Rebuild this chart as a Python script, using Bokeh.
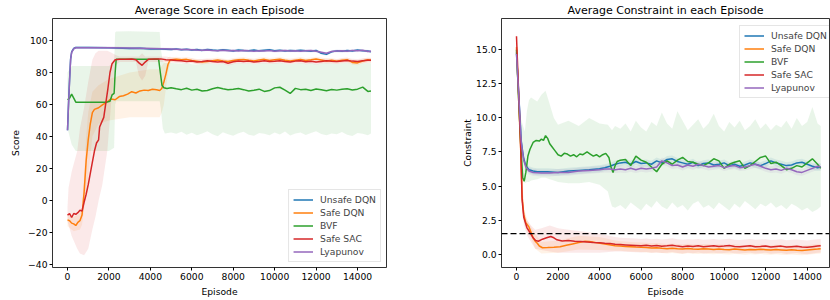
from bokeh.plotting import figure
from bokeh.layouts import row
from bokeh.models import Range1d, Span, Legend, LegendItem, FixedTicker, CustomJSTickFormatter
from bokeh.embed import file_html
from bokeh.resources import INLINE

# ---------------- data ----------------
SERIES = ["Unsafe DQN", "Safe DQN", "BVF", "Safe SAC", "Lyapunov"]
COLORS = ["#1f77b4", "#ff7f0e", "#2ca02c", "#d62728", "#9467bd"]
X_TICKS = [0, 2000, 4000, 6000, 8000, 10000, 12000, 14000]
SCORE_TICKS = [-40, -20, 0, 20, 40, 60, 80, 100]
CONSTRAINT_TICKS = [0, 2.5, 5, 7.5, 10, 12.5, 15]
CONSTRAINT_LIMIT = 1.5

TAIL_EP = [5000, 5250, 5500, 5750, 6000, 6250, 6500, 6750, 7000, 7250,
           7500, 7750, 8000, 8250, 8500, 8750, 9000, 9250, 9500, 9750,
           10000, 10250, 10500, 10750, 11000, 11250, 11500, 11750, 12000, 12250,
           12500, 12750, 13000, 13250, 13500, 13750, 14000, 14250, 14500, 14650]

# ---- score (left) ----
S_UNSAFE_HEAD_EP = [0, 50, 100, 150, 200, 300, 400, 1000, 2000, 3000, 3500, 4000, 4500]
S_UNSAFE_HEAD = [44, 61, 76, 88.5, 92.8, 95.0, 95.6, 95.6, 95.5, 95.0, 95.2, 94.6, 94.7]
S_UNSAFE_TAIL = [94.4, 94.7, 94.2, 94.5, 94.0, 94.3, 93.8, 94.4, 94.0, 93.7,
                 94.2, 93.9, 93.4, 94.1, 93.8, 93.6, 94.0, 93.5, 93.9, 94.2,
                 93.6, 93.9, 93.4, 93.8, 93.5, 93.9, 93.6, 93.3, 93.8, 92.0,
                 91.3, 92.9, 93.5, 93.2, 93.7, 93.4, 94.0, 93.6, 93.4, 93.0]
S_UNSAFE_HW = 0.8

S_LYAP_HEAD_EP = [0, 50, 100, 150, 200, 300, 400, 1000, 2000, 3000, 4000, 4500]
S_LYAP_HEAD = [44, 60, 75, 88, 92.5, 94.8, 95.5, 95.5, 95.5, 95.3, 95.0, 94.8]
S_LYAP_TAIL = [94.6, 94.5, 94.4, 94.3, 94.2, 94.0, 93.9, 94.1, 93.8, 93.6,
               93.9, 93.5, 93.7, 93.4, 93.8, 93.5, 93.3, 93.6, 93.4, 93.7,
               93.2, 93.5, 93.8, 93.4, 93.6, 93.3, 93.5, 93.7, 93.2, 92.6,
               92.0, 93.1, 93.4, 93.6, 93.2, 93.8, 93.5, 93.9, 93.1, 93.3]
S_LYAP_HW = 0.8

S_SAC_HEAD_EP = [0, 100, 200, 300, 400, 500, 600, 700, 800, 900, 1000, 1100, 1200, 1300,
                 1400, 1500, 1550, 1650, 1750, 1850, 1950, 2050, 2150, 2300, 2500, 2800,
                 3100, 3300, 3450, 3600, 3750, 3900, 4200, 4500, 4750]
S_SAC_HEAD = [-9, -8, -10.5, -8, -8.5, -7.5, -6, -6.5, -1, 4, 10, 17, 24, 31,
              36, 38, 46, 49, 52, 61, 70, 80, 85.5, 88, 88.3, 88.2,
              88.4, 88.0, 86, 84.5, 86.5, 88.2, 88.4, 88.5, 88.0]
S_SAC_TAIL = [87.8, 87.5, 87.3, 86.9, 87.2, 86.6, 86.9, 87.3, 86.8, 86.5,
              86.9, 85.8, 86.7, 87.2, 86.8, 87.1, 86.6, 86.9, 87.3, 86.8,
              87.0, 87.4, 86.9, 86.6, 87.1, 87.3, 86.7, 87.0, 86.5, 86.9,
              87.3, 87.0, 86.8, 87.2, 87.5, 87.1, 86.9, 87.3, 87.6, 87.6]
S_SAC_BAND_EP = [0, 50, 200, 470, 600, 800, 1000, 1200, 1350, 1500, 1680, 1920, 2100,
                 2300, 2500, 3300, 3450, 3600, 3750, 3900, 4750]
S_SAC_BAND_LO = [-13, -15, -22, -30, -33, -34, -30, -18, -10, 0, 10, 31, 60,
                 84, 86.5, 86.5, 78, 75, 78, 86.5, 86.5]
S_SAC_BAND_HI = [-4, 8, 18, 31, 45, 58, 74, 88, 92, 93.5, 93.5, 93.5, 92.5,
                 91, 90, 90, 90, 92, 90, 90, 90]
S_SAC_HW = 1.5

S_DQN_HEAD_EP = [0, 100, 200, 300, 400, 500, 600, 700, 800, 900, 1000, 1100, 1200, 1300,
                 1500, 1700, 1900, 2100, 2300, 2500, 2700, 2900, 3100, 3300, 3500, 3700,
                 3900, 4100, 4300, 4450, 4550, 4650, 4750, 4850, 4950]
S_DQN_HEAD = [-12, -12.5, -14, -14.5, -15.5, -13.5, -12.5, -9, 5, 25, 38, 48, 55, 57,
              58, 60, 61.5, 63.5, 63, 65, 65.5, 66.5, 68, 67.2, 68.5, 69,
              68.8, 69.6, 69.2, 68.8, 70, 74, 79, 85, 87.8]
S_DQN_TAIL = [88.0, 88.3, 87.9, 88.2, 87.5, 87.0, 86.5, 86.9, 87.4, 87.8,
              87.2, 86.8, 87.5, 87.9, 88.1, 87.6, 87.2, 87.8, 88.2, 87.5,
              87.9, 88.3, 87.6, 87.2, 87.7, 88.1, 87.5, 87.9, 88.4, 87.8,
              87.2, 87.6, 87.0, 87.6, 88.0, 86.3, 86.0, 87.2, 87.9, 87.7]
S_DQN_BAND_EP = [0, 300, 600, 700, 800, 900, 1000, 1200, 1500, 2000, 3000, 4000,
                 4450, 4550, 4650, 4750, 4850, 4950]
S_DQN_BAND_LO = [-16, -19, -18, -15, -5, 5, 15, 40, 48, 50, 52, 52,
                 52, 55, 60, 70, 80, 85.5]
S_DQN_BAND_HI = [-8, -10, -8, -4, 15, 40, 55, 68, 72, 76, 80, 82,
                 82, 84, 86, 88, 89.5, 90]
S_DQN_HW = 1.5

S_BVF_HEAD_EP = [0, 100, 200, 300, 400, 600, 1000, 1500, 1900, 2050, 2150, 2250, 2300,
                 2350, 2600, 3000, 3500, 4000, 4400, 4480, 4560, 4650, 4800]
S_BVF_HEAD = [63, 64, 66.5, 64, 61.5, 61.5, 61.4, 61.5, 61.5, 62, 66, 67, 80,
              88.3, 88.3, 88.2, 88.3, 88.2, 88.2, 80, 72, 70.5, 70]
S_BVF_TAIL = [70.5, 69.8, 69.3, 70.2, 69.0, 69.5, 68.4, 68.8, 69.9, 70.6,
              69.8, 69.2, 69.5, 70.0, 69.3, 68.4, 68.9, 69.6, 68.2, 68.7,
              70.4, 70.8, 69.0, 66.9, 70.1, 69.3, 69.6, 68.8, 69.7, 69.2,
              68.6, 69.4, 69.0, 69.5, 69.9, 69.1, 69.6, 70.9, 68.2, 68.5]
S_BVF_BAND_EP = [0, 200, 400, 1000, 1500, 2000, 2250, 2300, 2350, 3000, 4000, 4450,
                 4500, 4600, 4700]
S_BVF_BAND_LO = [45, 35, 31, 31, 31, 31, 33, 60, 62, 62, 62, 62, 58, 45, 42]
S_BVF_BAND_HI = [80, 84, 84, 84, 84, 84, 86, 105, 105.6, 105.8, 105.5, 105.3, 95, 87, 86]
S_BVF_TAIL_LO = [42.5, 41.8, 43.0, 41.2, 42.4, 40.8, 42.0, 43.3, 41.5, 40.2,
                 42.7, 41.4, 40.6, 42.1, 43.0, 41.2, 40.5, 42.3, 41.7, 40.9,
                 42.5, 41.3, 43.1, 40.7, 41.9, 42.6, 41.0, 42.2, 43.4, 41.6,
                 40.8, 42.0, 41.4, 42.8, 41.1, 40.4, 42.3, 41.7, 40.9, 42.0]
S_BVF_TAIL_HI = [86.0, 85.8, 85.5, 85.7, 85.2, 85.0, 85.4, 85.8, 85.3, 85.0,
                 85.6, 84.8, 85.4, 85.9, 85.5, 85.7, 85.2, 85.6, 86.0, 85.4,
                 85.7, 86.1, 85.5, 85.1, 85.6, 85.9, 85.3, 85.7, 85.2, 85.6,
                 86.0, 85.6, 85.3, 85.8, 86.1, 85.4, 85.2, 85.7, 86.0, 85.8]

# ---- constraint (right) ----
C_UNSAFE_HEAD_EP = [0, 230, 300, 350, 450, 600, 800, 1000, 1500, 2000, 2500, 3000, 3500,
                    4000, 4250, 4500, 4750]
C_UNSAFE_HEAD = [14.8, 8.3, 7.5, 7.0, 6.5, 6.2, 6.1, 6.05, 6.05, 6.0, 6.1, 6.15, 6.2,
                 6.27, 6.35, 6.45, 6.6]
C_UNSAFE_TAIL = [6.70, 6.75, 6.60, 6.80, 6.65, 6.70, 6.60, 6.85, 6.70, 6.95,
                 7.00, 6.80, 6.70, 6.60, 6.75, 6.50, 6.65, 6.70, 6.55, 6.60,
                 6.70, 6.50, 6.60, 6.45, 6.55, 6.70, 6.60, 6.50, 6.65, 6.85,
                 6.70, 6.60, 6.50, 6.55, 6.70, 6.75, 6.60, 6.45, 6.35, 6.40]
C_UNSAFE_HW = 0.25

C_LYAP_HEAD_EP = [0, 230, 300, 350, 450, 600, 800, 1200, 1600, 2000, 2500, 3000, 3500,
                  4000, 4250, 4500, 4750]
C_LYAP_HEAD = [14.7, 8.2, 7.4, 6.9, 6.4, 6.1, 6.0, 5.95, 5.95, 6.0, 6.0, 6.1, 6.15,
               6.2, 6.25, 6.25, 6.2]
C_LYAP_TAIL = [6.25, 6.20, 6.30, 6.20, 6.30, 6.25, 6.30, 6.40, 6.85, 6.70,
               6.50, 6.55, 6.40, 6.55, 6.45, 6.60, 6.50, 6.40, 6.45, 6.50,
               6.35, 6.45, 6.50, 6.35, 6.40, 6.50, 6.60, 6.45, 6.30, 6.20,
               6.25, 6.15, 6.30, 6.20, 6.05, 6.00, 6.15, 6.30, 6.45, 6.40]
C_LYAP_HW = 0.25

C_SAC_HEAD_EP = [0, 100, 200, 270, 350, 500, 680, 800, 920, 1050, 1250, 1450, 1650, 1800,
                 1950, 2200, 2500, 2800, 3100, 3400, 3700, 4000, 4250, 4500, 4750]
C_SAC_HEAD = [16.0, 12.0, 8.0, 4.0, 2.7, 1.95, 1.5, 1.2, 1.0, 0.95, 1.1, 1.2, 1.3, 1.2,
              1.05, 0.97, 1.0, 0.95, 0.93, 0.9, 0.85, 0.83, 0.8, 0.78, 0.72]
C_SAC_TAIL = [0.70, 0.68, 0.66, 0.64, 0.62, 0.65, 0.60, 0.63, 0.58, 0.61,
              0.66, 0.59, 0.55, 0.60, 0.57, 0.62, 0.55, 0.58, 0.61, 0.56,
              0.59, 0.63, 0.56, 0.54, 0.58, 0.61, 0.55, 0.57, 0.60, 0.53,
              0.56, 0.59, 0.52, 0.55, 0.58, 0.53, 0.50, 0.55, 0.60, 0.62]
C_SAC_BAND_EP = [0, 200, 350, 500, 700, 900, 1200, 1600, 2000, 2500, 3000, 3500, 4000, 4750]
C_SAC_BAND_LO = [15.5, 7.5, 2.2, 1.4, 0.9, 0.4, 0.3, 0.2, 0.1, 0.1, 0.1, 0.1, 0.1, 0.2]
C_SAC_BAND_HI = [16.4, 8.6, 3.2, 2.5, 2.1, 1.8, 1.9, 2.1, 1.9, 1.8, 1.7, 1.6, 1.5, 1.25]
C_SAC_HW = 0.5

C_DQN_HEAD_EP = [0, 100, 200, 270, 350, 450, 600, 700, 800, 900, 1000, 1100, 1250, 1500,
                 1800, 2100, 2400, 2700, 3000, 3300, 3500, 3800, 4100, 4400, 4750]
C_DQN_HEAD = [15.2, 11.5, 7.8, 4.2, 2.9, 2.3, 2.0, 1.6, 1.2, 0.95, 0.8, 0.6, 0.47, 0.48,
              0.5, 0.55, 0.65, 0.75, 0.85, 0.95, 0.93, 0.85, 0.78, 0.7, 0.62]
C_DQN_TAIL = [0.60, 0.57, 0.55, 0.52, 0.50, 0.48, 0.45, 0.47, 0.43, 0.40,
              0.44, 0.39, 0.37, 0.41, 0.38, 0.36, 0.40, 0.37, 0.34, 0.38,
              0.35, 0.33, 0.37, 0.34, 0.31, 0.35, 0.32, 0.36, 0.33, 0.30,
              0.34, 0.31, 0.28, 0.32, 0.29, 0.27, 0.31, 0.35, 0.38, 0.40]
C_DQN_BAND_EP = [0, 200, 350, 500, 700, 900, 1200, 2000, 3000, 4000, 4750]
C_DQN_BAND_LO = [14.7, 7.3, 2.4, 1.7, 1.2, 0.4, 0.05, 0.1, 0.35, 0.3, 0.25]
C_DQN_BAND_HI = [15.7, 8.3, 3.4, 2.6, 2.0, 1.5, 0.9, 1.0, 1.35, 1.25, 1.0]
C_DQN_HW = 0.35

C_BVF_HEAD_EP = [0, 100, 200, 300, 370, 450, 550, 650, 800, 950, 1100, 1200, 1300, 1400,
                 1500, 1600, 1700, 1850, 2000, 2150, 2300, 2450, 2600, 2750, 2900, 3050,
                 3200, 3400, 3550, 3700, 3850, 4000, 4150, 4300, 4450, 4550, 4650, 4750, 4850]
C_BVF_HEAD = [15.0, 11.5, 8.2, 5.6, 5.35, 6.0, 7.2, 7.7, 8.2, 8.35, 8.3, 8.45, 8.35, 8.7,
              8.5, 8.1, 7.9, 7.6, 7.3, 7.2, 7.4, 7.35, 7.2, 7.3, 7.15, 7.35,
              7.3, 7.5, 7.35, 7.2, 7.3, 7.15, 7.3, 7.4, 7.1, 6.4, 6.0, 6.5, 6.8]
C_BVF_TAIL = [6.90, 6.95, 6.50, 7.20, 6.90, 6.75, 6.40, 6.05, 6.60, 6.85,
              6.60, 6.90, 7.10, 6.80, 6.75, 6.60, 6.50, 6.70, 7.00, 6.85,
              6.30, 6.60, 6.75, 6.85, 6.30, 6.50, 6.80, 7.10, 7.20, 6.65,
              6.75, 6.50, 6.20, 6.30, 6.50, 6.40, 6.70, 7.00, 6.60, 6.30]
C_BVF_BAND_EP = [0, 200, 400, 500, 600, 700, 1000, 1200, 1400, 1600, 1800, 2000, 2500,
                 3000, 3500, 4000, 4400, 4500, 4600, 4750]
C_BVF_BAND_HI = [15.5, 10, 9, 10.5, 11.3, 11.5, 11.2, 11.7, 12.0, 11.0, 10.0, 9.5, 9.8,
                 9.4, 10.0, 9.6, 9.5, 9.3, 9.1, 9.4]
C_BVF_BAND_LO = [14.5, 6.5, 5.2, 5.3, 5.3, 5.4, 5.5, 5.6, 5.6, 5.5, 5.4, 5.3, 5.2,
                 5.2, 5.3, 5.1, 4.6, 4.0, 3.5, 3.4]
C_BVF_TAIL_HI = [9.2, 9.6, 9.0, 9.8, 9.3, 9.0, 9.7, 9.4, 10.4, 9.6,
                 9.2, 10.5, 9.8, 9.1, 9.5, 9.9, 9.2, 9.6, 10.3, 9.4,
                 9.0, 9.7, 9.3, 9.8, 9.1, 9.4, 9.9, 9.2, 9.6, 9.1,
                 9.5, 9.3, 9.8, 9.2, 10.0, 9.4, 9.7, 10.8, 9.6, 9.4]
C_BVF_TAIL_LO = [3.6, 3.3, 3.8, 3.5, 3.2, 3.7, 3.4, 3.9, 3.5, 3.3,
                 3.8, 3.4, 3.6, 3.2, 3.7, 3.9, 3.4, 3.6, 3.3, 3.8,
                 3.5, 3.2, 3.7, 3.4, 3.9, 3.6, 3.3, 3.7, 3.5, 3.8,
                 3.4, 3.6, 3.3, 3.7, 3.5, 3.2, 3.4, 3.1, 3.3, 3.5]

# ---------------- helpers ----------------
FONT = "DejaVu Sans"


def line_of(head_ep, head, tail):
    return list(head_ep) + TAIL_EP, list(head) + list(tail)


def band_hw(xs, ys, hw):
    return xs, [v - hw for v in ys], [v + hw for v in ys]


def band_head_tail(band_ep, lo, hi, tail, hw):
    return (list(band_ep) + TAIL_EP,
            list(lo) + [v - hw for v in tail],
            list(hi) + [v + hw for v in tail])


def make_fig(title, xr, yr, width, left, right, ylabel, yticks, fmt_code, ylabel_standoff):
    p = figure(width=width, height=300, x_range=Range1d(*xr), y_range=Range1d(*yr),
               output_backend="svg", toolbar_location=None,
               min_border_left=left, min_border_right=right,
               min_border_top=0, min_border_bottom=33)
    p.title.text = title
    p.title.align = "center"
    p.title.text_font = FONT
    p.title.text_font_size = "11px"
    p.title.text_font_style = "normal"
    p.title.text_color = "#000000"
    p.title.standoff = 3
    p.title.offset = 0
    p.grid.visible = False
    p.outline_line_color = "#000000"
    p.outline_line_width = 1
    p.outline_line_alpha = 0.8
    p.background_fill_color = "white"
    p.border_fill_color = "white"
    p.xaxis.ticker = FixedTicker(ticks=X_TICKS)
    p.yaxis.ticker = FixedTicker(ticks=yticks)
    p.xaxis.axis_label = "Episode"
    p.yaxis.axis_label = ylabel
    p.yaxis.formatter = CustomJSTickFormatter(code=fmt_code)
    for ax in p.axis:
        ax.axis_line_color = None
        ax.minor_tick_line_color = None
        ax.major_tick_in = 0
        ax.major_tick_out = 3
        ax.major_tick_line_color = "#000000"
        ax.major_label_standoff = 2
        ax.major_label_text_font = FONT
        ax.major_label_text_font_size = "9.2px"
        ax.major_label_text_color = "#000000"
        ax.axis_label_text_font = FONT
        ax.axis_label_text_font_size = "9.2px"
        ax.axis_label_text_font_style = "normal"
        ax.axis_label_text_color = "#000000"
    p.xaxis.axis_label_standoff = 3
    p.yaxis.axis_label_standoff = ylabel_standoff
    return p


def style_legend(leg, margin):
    leg.label_text_font = FONT
    leg.label_text_font_size = "9.2px"
    leg.glyph_width = 20
    leg.glyph_height = 9
    leg.label_height = 9
    leg.spacing = 2
    leg.padding = 4
    leg.margin = margin
    leg.label_standoff = 7
    leg.border_line_color = "#cccccc"
    leg.border_line_width = 1
    leg.background_fill_alpha = 0.85


def draw(p, lines, bands, legend_loc, margin):
    for (bx, lo, hi), c in zip(bands, COLORS):
        p.varea(x=bx, y1=lo, y2=hi, fill_color=c, fill_alpha=0.1)
    rends = []
    for (x, y), c in zip(lines, COLORS):
        rends.append(p.line(x, y, line_color=c, line_width=1.5))
    leg = Legend(items=[LegendItem(label=n, renderers=[r]) for n, r in zip(SERIES, rends)],
                 location=legend_loc)
    style_legend(leg, margin)
    p.add_layout(leg)


INT_FMT = "var s = Math.round(tick).toFixed(0); return tick < 0 ? '\\u2212' + s.slice(1) : s;"
ONE_FMT = "var s = tick.toFixed(1); return tick < 0 ? '\\u2212' + s.slice(1) : s;"

# ---------------- left: score ----------------
p1 = make_fig("Average Score in each Episode", (-725, 15399), (-41.7, 113.7), 420, 52, 34,
              "Score", SCORE_TICKS, INT_FMT, 4)
s_unsafe = line_of(S_UNSAFE_HEAD_EP, S_UNSAFE_HEAD, S_UNSAFE_TAIL)
s_dqn = line_of(S_DQN_HEAD_EP, S_DQN_HEAD, S_DQN_TAIL)
s_bvf = line_of(S_BVF_HEAD_EP, S_BVF_HEAD, S_BVF_TAIL)
s_sac = line_of(S_SAC_HEAD_EP, S_SAC_HEAD, S_SAC_TAIL)
s_lyap = line_of(S_LYAP_HEAD_EP, S_LYAP_HEAD, S_LYAP_TAIL)
s_bands = [
    band_hw(*s_unsafe, S_UNSAFE_HW),
    band_head_tail(S_DQN_BAND_EP, S_DQN_BAND_LO, S_DQN_BAND_HI, S_DQN_TAIL, S_DQN_HW),
    (list(S_BVF_BAND_EP) + TAIL_EP, S_BVF_BAND_LO + S_BVF_TAIL_LO, S_BVF_BAND_HI + S_BVF_TAIL_HI),
    band_head_tail(S_SAC_BAND_EP, S_SAC_BAND_LO, S_SAC_BAND_HI, S_SAC_TAIL, S_SAC_HW),
    band_hw(*s_lyap, S_LYAP_HW),
]
draw(p1, [s_unsafe, s_dqn, s_bvf, s_sac, s_lyap], s_bands, "bottom_right", 5)

# ---------------- right: constraint ----------------
p2 = make_fig("Average Constraint in each Episode", (-722, 15074), (-0.98, 17.3), 410, 81, 1,
              "Constraint", CONSTRAINT_TICKS, ONE_FMT, 0)
c_unsafe = line_of(C_UNSAFE_HEAD_EP, C_UNSAFE_HEAD, C_UNSAFE_TAIL)
c_dqn = line_of(C_DQN_HEAD_EP, C_DQN_HEAD, C_DQN_TAIL)
c_bvf = line_of(C_BVF_HEAD_EP, C_BVF_HEAD, C_BVF_TAIL)
c_sac = line_of(C_SAC_HEAD_EP, C_SAC_HEAD, C_SAC_TAIL)
c_lyap = line_of(C_LYAP_HEAD_EP, C_LYAP_HEAD, C_LYAP_TAIL)
c_bands = [
    band_hw(*c_unsafe, C_UNSAFE_HW),
    band_head_tail(C_DQN_BAND_EP, C_DQN_BAND_LO, C_DQN_BAND_HI, C_DQN_TAIL, C_DQN_HW),
    (list(C_BVF_BAND_EP) + TAIL_EP, C_BVF_BAND_LO + C_BVF_TAIL_LO, C_BVF_BAND_HI + C_BVF_TAIL_HI),
    band_head_tail(C_SAC_BAND_EP, C_SAC_BAND_LO, C_SAC_BAND_HI, C_SAC_TAIL, C_SAC_HW),
    band_hw(*c_lyap, C_LYAP_HW),
]
p2.add_layout(Span(location=CONSTRAINT_LIMIT, dimension="width", line_color="black",
                   line_dash="6 3", line_width=1.3))
draw(p2, [c_unsafe, c_dqn, c_bvf, c_sac, c_lyap], c_bands, (238, 169), 0)

layout = row(p1, p2)
open("out.html", "w", encoding="utf-8").write(file_html(layout, INLINE))
